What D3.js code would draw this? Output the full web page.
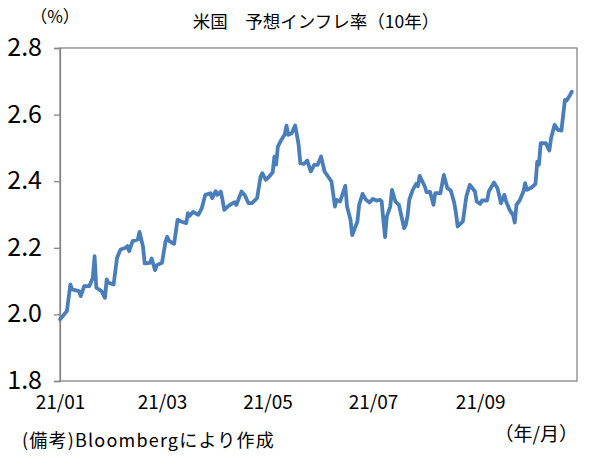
<!DOCTYPE html>
<html>
	<head>
		<title>米国 予想インフレ率</title>
		<meta charset="utf-8">
	</head>
	<body>
		<svg id="chart" width="598" height="456"></svg>
	</body>

	<script src="https://d3js.org/d3.v7.min.js"></script>
	<script>
		// Data (2021, MM-DD)

		const dates = [
			"01-01","01-05","01-07","01-08","01-12","01-13","01-15","01-18","01-20","01-21",
			"01-22","01-25","01-27","01-28","01-29","02-01","02-03","02-05","02-08","02-09",
			"02-10","02-12","02-15","02-16","02-18","02-19","02-22","02-23","02-25","02-26",
			"03-01","03-03","03-04","03-05","03-08","03-10","03-12","03-15","03-16","03-17",
			"03-19","03-22","03-24","03-26","03-29","03-30","04-01","04-02","04-04","04-05",
			"04-06","04-08","04-10","04-12","04-13","04-16","04-18","04-20","04-22","04-25",
			"04-27","04-28","04-30","05-02","05-04","05-05","05-06","05-07","05-09","05-11",
			"05-12","05-13","05-15","05-17","05-18","05-19","05-20","05-22","05-24","05-26",
			"05-28","05-30","06-01","06-03","06-05","06-07","06-09","06-10","06-12","06-15",
			"06-16","06-18","06-19","06-22","06-23","06-25","06-27","06-29","07-01","07-03",
			"07-05","07-06","07-07","07-08","07-09","07-11","07-12","07-14","07-16","07-19",
			"07-20","07-21","07-22","07-24","07-26","07-27","07-28","07-31","08-01","08-03",
			"08-05","08-06","08-09","08-11","08-13","08-15","08-17","08-18","08-19","08-22",
			"08-24","08-26","08-29","08-30","09-01","09-02","09-05","09-06","09-09","09-11",
			"09-13","09-15","09-16","09-18","09-20","09-21","09-22","09-24","09-26","09-27",
			"09-28","10-01","10-03","10-04","10-05","10-06","10-09","10-11","10-12","10-14",
			"10-16","10-18","10-20","10-21","10-23","10-24"
		];

		const values = [
			1.985,2.010,2.090,2.075,2.070,2.055,2.085,2.085,2.110,2.175,
			2.080,2.070,2.050,2.105,2.095,2.090,2.170,2.195,2.200,2.205,
			2.190,2.220,2.225,2.248,2.203,2.153,2.155,2.168,2.133,2.148,
			2.155,2.218,2.233,2.221,2.212,2.284,2.279,2.274,2.304,2.296,
			2.308,2.299,2.319,2.359,2.364,2.349,2.370,2.359,2.369,2.344,
			2.314,2.324,2.331,2.337,2.329,2.369,2.357,2.334,2.334,2.349,
			2.414,2.424,2.404,2.414,2.427,2.474,2.450,2.504,2.524,2.541,
			2.567,2.539,2.544,2.567,2.539,2.510,2.454,2.452,2.462,2.429,
			2.449,2.449,2.474,2.429,2.414,2.399,2.324,2.344,2.339,2.386,
			2.324,2.284,2.238,2.279,2.329,2.362,2.344,2.336,2.347,2.342,
			2.344,2.340,2.284,2.232,2.294,2.324,2.374,2.339,2.329,2.259,
			2.269,2.296,2.344,2.374,2.392,2.385,2.416,2.384,2.367,2.368,
			2.329,2.364,2.364,2.419,2.379,2.372,2.335,2.304,2.264,2.279,
			2.354,2.389,2.369,2.339,2.332,2.342,2.342,2.369,2.396,2.379,
			2.334,2.359,2.339,2.314,2.299,2.276,2.329,2.344,2.369,2.394,
			2.374,2.382,2.392,2.459,2.450,2.514,2.514,2.492,2.529,2.569,
			2.554,2.552,2.644,2.642,2.659,2.669
		];

		const yTicks = [1.8, 2.0, 2.2, 2.4, 2.6, 2.8];
		const xTicks = ["01-01", "03-01", "05-01", "07-01", "09-01"];

		const title = "米国　予想インフレ率（10年）";
		const unitLabel = "（%）";
		const sourceNote = "(備考)Bloombergにより作成";
		const xUnit = "（年/月）";

		let parse = d3.timeParse("%Y-%m-%d");
		let points = dates.map((d, i) => ({ date: parse("2021-" + d), value: values[i] }));

		let plot = { left: 60, right: 577, top: 48, bottom: 381 };

		let x = d3.scaleTime()
			.domain([parse("2021-01-01"), parse("2021-10-27")])
			.range([plot.left, plot.right]);

		let y = d3.scaleLinear()
			.domain([1.8, 2.8])
			.range([plot.bottom, plot.top]);

		let svg = d3.select("#chart");
		let font = "'Noto Sans CJK JP', 'Noto Sans', sans-serif";

		svg.append("rect")
			.attr("width", 598)
			.attr("height", 456)
			.attr("fill", "#fff");

		// plot frame
		svg.append("rect")
			.attr("x", plot.left)
			.attr("y", plot.top)
			.attr("width", plot.right - plot.left)
			.attr("height", plot.bottom - plot.top)
			.attr("fill", "none")
			.attr("stroke", "#868686")
			.attr("stroke-width", 1.3);

		// y axis
		let yAxis = svg.append("g")
			.attr("transform", `translate(${plot.left},0)`)
			.call(d3.axisLeft(y).tickValues(yTicks).tickSize(6).tickPadding(12).tickFormat(d3.format(".1f")));

		yAxis.select(".domain").attr("stroke", "#868686").attr("stroke-width", 1.3);
		yAxis.selectAll(".tick line").attr("stroke", "#868686").attr("stroke-width", 1.3);
		yAxis.selectAll(".tick text")
			.attr("font-family", font)
			.attr("font-size", 25)
			.attr("fill", "#000")
			.attr("dy", "0.3em");

		// x axis
		let xAxis = svg.append("g")
			.attr("transform", `translate(0,${plot.bottom})`)
			.call(d3.axisBottom(x)
				.tickValues(xTicks.map(d => parse("2021-" + d)))
				.tickSize(0)
				.tickPadding(14)
				.tickFormat(d3.timeFormat("%y/%m")));

		xAxis.select(".domain").remove();
		xAxis.selectAll(".tick text")
			.attr("font-family", font)
			.attr("font-size", 19)
			.attr("fill", "#000")
			.attr("dy", "0.75em");

		// the series
		let line = d3.line()
			.x(d => x(d.date))
			.y(d => y(d.value));

		svg.append("path")
			.datum(points)
			.attr("d", line)
			.attr("fill", "none")
			.attr("stroke", "#4A7EBB")
			.attr("stroke-width", 3.8)
			.attr("stroke-linejoin", "round")
			.attr("stroke-linecap", "round");

		// texts
		svg.append("text")
			.attr("x", 316)
			.attr("y", 28)
			.attr("text-anchor", "middle")
			.attr("font-family", font)
			.attr("font-size", 17.5)
			.text(title);

		svg.append("text")
			.attr("x", 55)
			.attr("y", 23)
			.attr("text-anchor", "middle")
			.attr("font-family", font)
			.attr("font-size", 17)
			.text(unitLabel);

		svg.append("text")
			.attr("x", 22)
			.attr("y", 447)
			.attr("font-family", font)
			.attr("font-size", 18)
			.attr("letter-spacing", 1.2)
			.text(sourceNote);

		svg.append("text")
			.attr("x", 578)
			.attr("y", 441)
			.attr("text-anchor", "end")
			.attr("font-family", font)
			.attr("font-size", 19)
			.text(xUnit);
	</script>

	<style>
		html, body
		{
			margin: 0;
			background: #fff;
		}

		#chart
		{
			display: block;
		}
	</style>
</html>
